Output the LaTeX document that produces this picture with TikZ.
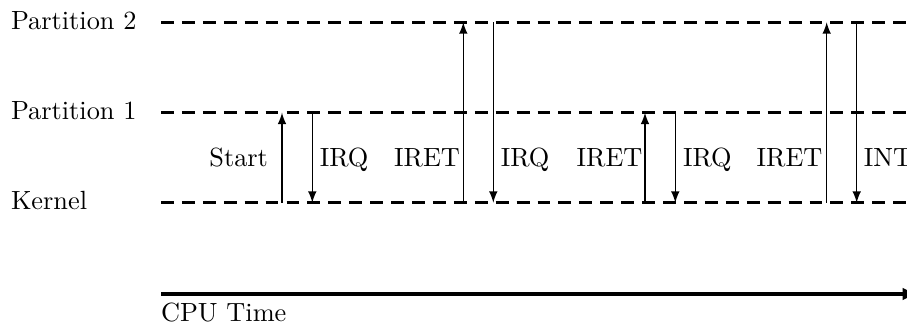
\documentclass[tikz,border=0pt]{standalone}
\usetikzlibrary{arrows}
\begin{document}
\begin{tikzpicture}[x=0.38pt,y=-0.38pt,
  level/.style={line width=1.15pt,dash pattern=on 4.9pt off 3.05pt},
  trans/.style={line width=0.5pt,-latex},
  lbl/.style={inner sep=0pt,anchor=base},
  timeline/.style={line width=1.15pt,-latex}]
\useasboundingbox (0,0) rectangle (907,327);
\clip (0,0) rectangle (907,327);
% rows
\node[lbl,anchor=base west] (lp2) at (10.5,29.5) {Partition 2};
\node[lbl,anchor=base west] (lp1) at (10.5,119.5) {Partition 1};
\node[lbl,anchor=base west] (lk) at (10.5,209.5) {Kernel};
\coordinate (p2s) at (161,22.3);
\coordinate (p2e) at (930,22.3);
\coordinate (p1s) at (161,112.7);
\coordinate (p1e) at (930,112.7);
\coordinate (ks) at (161,202.7);
\coordinate (ke) at (930,202.7);
\draw[level] (p2s) -- (p2e);
\draw[level] (p1s) -- (p1e);
\draw[level] (ks) -- (ke);
% transitions
\foreach \n/\x/\a/\b in {a/282/202.7/112.7, b/312.3/112.7/202.7, c/463.3/202.7/22.3, d/493.3/22.3/202.7,
  e/645/202.7/112.7, f/675.3/112.7/202.7, g/826.7/202.7/22.3, h/856.7/22.3/202.7}{
  \coordinate (\n1) at (\x,\a);
  \coordinate (\n2) at (\x,\b);
  \draw[trans] (\n1) -- (\n2);
}
% labels
\node[lbl,anchor=base east] (tstart) at (268.5,166.5) {Start};
\node[lbl,anchor=base west] (tirq1) at (319.3,166.5) {IRQ};
\node[lbl,anchor=base east] (tiret1) at (460.5,166.5) {IRET};
\node[lbl,anchor=base west] (tirq2) at (500.3,166.5) {IRQ};
\node[lbl,anchor=base east] (tiret2) at (643,166.5) {IRET};
\node[lbl,anchor=base west] (tirq3) at (682.5,166.5) {IRQ};
\node[lbl,anchor=base east] (tiret3) at (823,166.5) {IRET};
\node[lbl,anchor=base west] (tint) at (863.3,166.5) {INT};
% time axis
\coordinate (ts) at (161,294);
\coordinate (te) at (919,294);
\draw[timeline] (ts) -- (te);
\node[lbl,anchor=base west] (tcpu) at (160.5,321.5) {CPU Time};
\end{tikzpicture}
\end{document}
